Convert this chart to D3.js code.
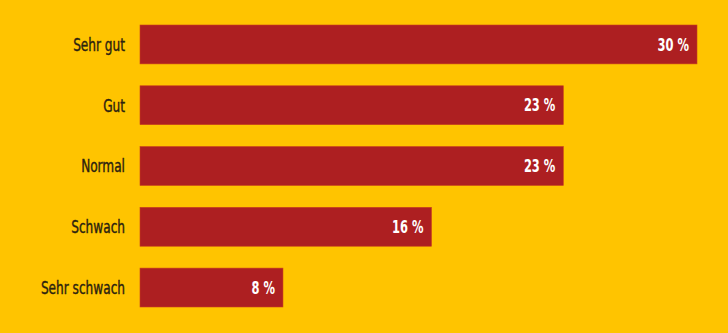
<!DOCTYPE html>
<html>
<head>
<meta charset="utf-8">
<script src="https://cdn.jsdelivr.net/npm/d3@7"></script>
<style>
  html, body { margin: 0; padding: 0; background: #ffc400; }
  svg { display: block; }
  text { font-family: "DejaVu Sans Condensed", "DejaVu Sans", sans-serif; font-stretch: condensed; }
</style>
</head>
<body>
<div id="chart"></div>
<script>
var categories = ["Sehr gut", "Gut", "Normal", "Schwach", "Sehr schwach"];
var values = [30, 22.8, 22.8, 15.7, 7.7];
var valueLabels = ["30 %", "23 %", "23 %", "16 %", "8 %"];

var width = 728, height = 333;
var left = 140, right = 697;
var squeeze = 0.75; // the original uses a condensed face

var svg = d3.select("#chart").append("svg")
    .attr("width", width)
    .attr("height", height);

svg.append("rect").attr("width", width).attr("height", height).attr("fill", "#ffc400");

var x = d3.scaleLinear().domain([0, 30]).range([left, right]);
var y = d3.scaleBand().domain(categories).range([25, 307]).paddingInner(0.36).paddingOuter(0);

var rows = svg.selectAll("g.row")
    .data(categories)
    .enter().append("g")
    .attr("class", "row");

rows.append("rect")
    .attr("x", x(0))
    .attr("y", function(d) { return y(d); })
    .attr("width", function(d, i) { return x(values[i]) - x(0); })
    .attr("height", y.bandwidth())
    .attr("fill", "#ad1f21")
    .attr("stroke", "#c8401c")
    .attr("stroke-width", 0.6);

rows.append("text")
    .attr("transform", function(d) {
        return "translate(" + (x(0) - 15) + "," + (y(d) + y.bandwidth() / 2) + ") scale(" + squeeze + ",1)";
    })
    .attr("dy", "0.36em")
    .attr("text-anchor", "end")
    .attr("fill", "#2b2210")
    .attr("stroke", "#2b2210")
    .attr("stroke-width", 0.4)
    .attr("font-size", 18)
    .text(function(d) { return d; });

rows.append("text")
    .attr("transform", function(d, i) {
        return "translate(" + (x(values[i]) - 8) + "," + (y(d) + y.bandwidth() / 2) + ") scale(" + squeeze + ",1)";
    })
    .attr("dy", "0.36em")
    .attr("text-anchor", "end")
    .attr("fill", "#ffffff")
    .attr("font-weight", "bold")
    .attr("font-size", 17)
    .text(function(d, i) { return valueLabels[i]; });
</script>
</body>
</html>
